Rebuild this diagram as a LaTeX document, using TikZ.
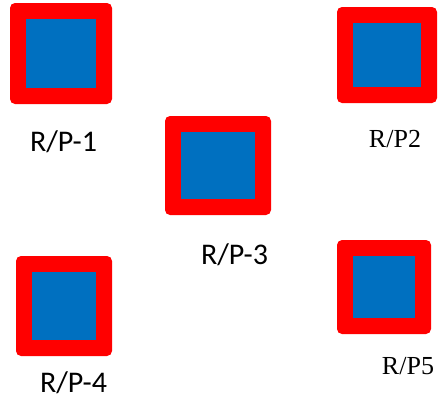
\documentclass[tikz,border=0pt]{standalone}
\usepackage{fontspec}
\newfontfamily\rpsansfont{Carlito}
\newfontfamily\rpseriffont{Liberation Serif}
\definecolor{rpred}{HTML}{FF0000}
\definecolor{rpblue}{HTML}{0070C0}

\tikzset{
  rp/.style={fill=rpred, rounded corners=5pt, inner sep=0pt,
    path picture={\fill[rpblue, sharp corners]
      ([shift={(16pt,-16pt)}]path picture bounding box.north west) rectangle
      ([shift={(-16pt,16pt)}]path picture bounding box.south east);}},
  rpsans/.style={anchor=base, inner sep=0pt, font=\rpsansfont\fontsize{30}{30}\selectfont},
  rpserif/.style={anchor=base, inner sep=0pt, font=\rpseriffont\fontsize{26}{26}\selectfont},
}

\begin{document}
\begin{tikzpicture}[x=1pt,y=-1pt]
  \useasboundingbox (0,0) rectangle (441,402);
  % the five boxes
  \node[rp, minimum width=102pt, minimum height=101pt] (rp1) at (61,53.5) {};
  \node[rp, minimum width=100pt, minimum height=96pt] (rp2) at (387,55) {};
  \node[rp, minimum width=106pt, minimum height=99pt] (rp3) at (218,165.5) {};
  \node[rp, minimum width=96pt, minimum height=100pt] (rp4) at (64,306) {};
  \node[rp, minimum width=94pt, minimum height=94pt] (rp5) at (384,287) {};
  % names under them
  \node[rpsans] (l1) at (63.5,151) {R/P-1};
  \node[rpserif] (l2) at (395,147) {R/P2};
  \node[rpsans] (l3) at (234.5,264) {R/P-3};
  \node[rpsans] (l4) at (73.5,392) {R/P-4};
  \node[rpserif] (l5) at (408,374) {R/P5};
\end{tikzpicture}
\end{document}
